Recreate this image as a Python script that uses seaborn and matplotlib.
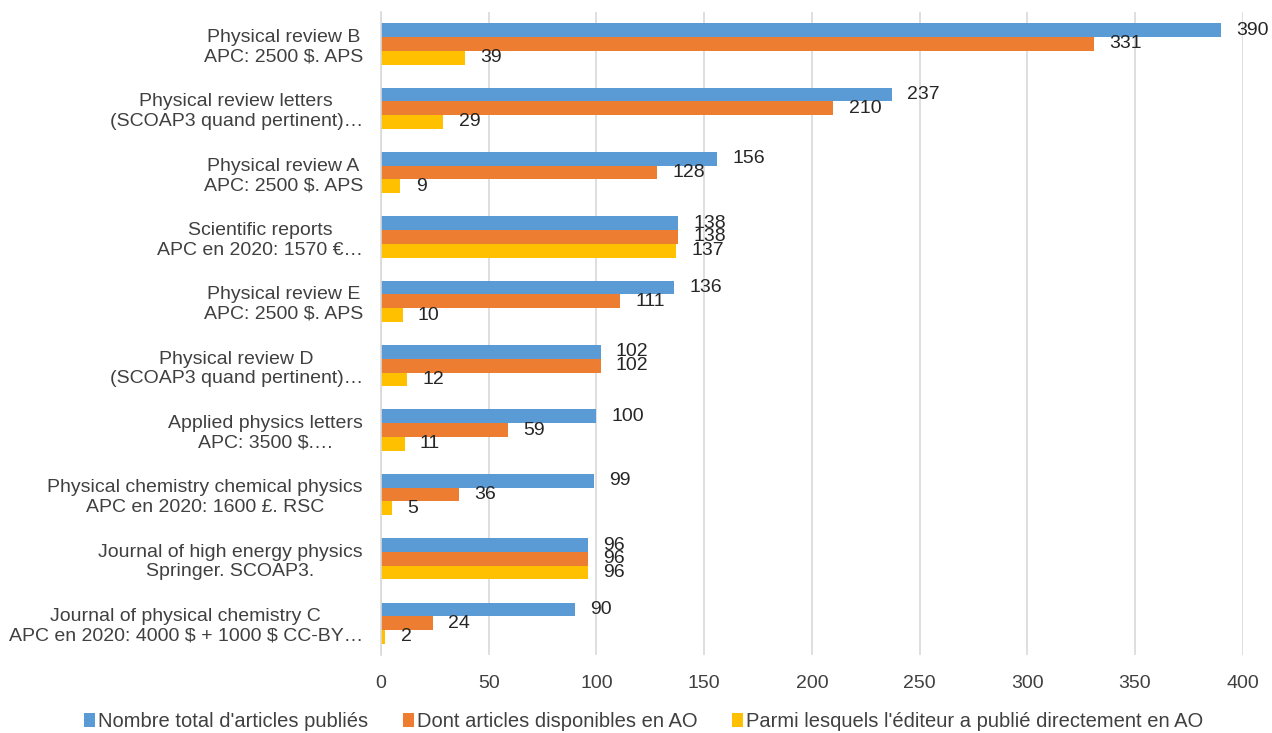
import pandas as pd
import numpy as np
import matplotlib
matplotlib.use('Agg')
import matplotlib.pyplot as plt
import seaborn as sns

sns.set_style('white')
plt.rcParams['font.family'] = ['Liberation Sans', 'DejaVu Sans']

journals = [
    "Physical review B\nAPC: 2500 \\$. APS",
    "Physical review letters\n(SCOAP3 quand pertinent)…",
    "Physical review A\nAPC: 2500 \\$. APS",
    "Scientific reports\nAPC en 2020: 1570 €…",
    "Physical review E\nAPC: 2500 \\$. APS",
    "Physical review D\n(SCOAP3 quand pertinent)…",
    "Applied physics letters\nAPC: 3500 \\$.…",
    "Physical chemistry chemical physics\nAPC en 2020: 1600 £. RSC",
    "Journal of high energy physics\nSpringer. SCOAP3.",
    "Journal of physical chemistry C\nAPC en 2020: 4000 \\$ + 1000 \\$ CC-BY…",
]
total = [390, 237, 156, 138, 136, 102, 100, 99, 96, 90]
dispo_ao = [331, 210, 128, 138, 111, 102, 59, 36, 96, 24]
editeur_ao = [39, 29, 9, 137, 10, 12, 11, 5, 96, 2]

series = ["Nombre total d'articles publiés",
          "Dont articles disponibles en AO",
          "Parmi lesquels l'éditeur a publié directement en AO"]
colors = ['#5B9BD5', '#ED7D31', '#FFC000']

df = pd.DataFrame({'Revue': journals * 3,
                   'Articles': total + dispo_ao + editeur_ao,
                   'Serie': [s for s in series for _ in journals]})

fig = plt.figure(figsize=(12.72, 7.33), dpi=100)
ax = fig.add_axes([0.2995, 0.106, 0.6775, 0.878])

sns.barplot(data=df, y='Revue', x='Articles', hue='Serie', hue_order=series,
            palette=colors, orient='h', width=0.64, saturation=1, linewidth=0, ax=ax)

# étiquettes de valeurs au bout des barres
for c in ax.containers:
    ax.bar_label(c, padding=11, fontsize=14, color='#262626')

ax.set_xlim(0, 400)
ax.set_xticks(np.arange(0, 401, 50))
ax.set_xlabel('')
ax.set_ylabel('')
ax.tick_params(axis='both', length=0, labelsize=14, colors='#404040')
ax.tick_params(axis='x', pad=14)
ax.tick_params(axis='y', pad=13)
ax.xaxis.grid(True, color='#D9D9D9', linewidth=1.2)
ax.set_axisbelow(True)
for s in ['top', 'right', 'bottom']:
    ax.spines[s].set_visible(False)
ax.spines['left'].set_color('#D9D9D9')
ax.spines['left'].set_linewidth(1.2)
for lbl in ax.get_yticklabels():
    lbl.set_multialignment('center')

ax.get_legend().remove()
handles, labels = ax.get_legend_handles_labels()
fig.legend(handles, labels, loc='lower center', bbox_to_anchor=(0.506, -0.022),
           ncol=3, frameon=False, fontsize=14.5, handlelength=0.55, handleheight=0.7,
           handletextpad=0.15, columnspacing=1.7, labelcolor='#404040')

fig.savefig('out.png', dpi=100)
